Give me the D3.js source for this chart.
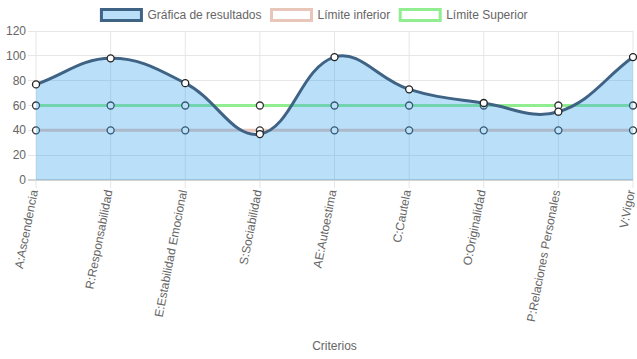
<!DOCTYPE html>
<html><head><meta charset="utf-8">
<script src="https://cdn.jsdelivr.net/npm/d3@7"></script>
<style>body{margin:0;background:#fff;} text{font-family:"Liberation Sans",Arial,Helvetica,sans-serif;}</style>
</head><body>
<svg id="c" width="637" height="359"></svg>
<script>
const categories = ["A:Ascendencia","R:Responsabilidad","E:Estabilidad Emocional","S:Sociabilidad","AE:Autoestima","C:Cautela","O:Originalidad","P:Relaciones Personales","V:Vigor"];
const resultados = [77, 98, 78, 37, 99, 73, 62, 55, 99];
const limiteInferior = [40, 40, 40, 40, 40, 40, 40, 40, 40];
const limiteSuperior = [60, 60, 60, 60, 60, 60, 60, 60, 60];
const yTicks = [0, 20, 40, 60, 80, 100, 120];
const legendLabels = ["Gráfica de resultados", "Límite inferior", "Límite Superior"];
const axisTitle = "Criterios";

const svg = d3.select("#c");
const L = 36, R = 633, T = 31, B = 180;
const x = d3.scalePoint().domain(categories).range([L, R]);
const y = d3.scaleLinear().domain([0, 120]).range([B, T]);

// grid
const g = svg.append("g");
yTicks.forEach(t => {
  g.append("line").attr("x1", L - 8).attr("x2", R).attr("y1", y(t)).attr("y2", y(t))
    .attr("stroke", t === 0 ? "#d4d4d4" : "#e6e6e6").attr("stroke-width", t === 0 ? 2 : 1).attr("shape-rendering", "crispEdges");
  g.append("text").attr("x", L - 10).attr("y", y(t)).attr("text-anchor", "end").attr("dominant-baseline", "central")
    .attr("font-size", 12).attr("fill", "#666").text(t);
});
categories.forEach(c => {
  g.append("line").attr("x1", x(c)).attr("x2", x(c)).attr("y1", T).attr("y2", B + 8)
    .attr("stroke", "#e6e6e6").attr("stroke-width", 1);
  g.append("text").attr("transform", `translate(${x(c) - 2},${B + 10}) rotate(-79)`)
    .attr("text-anchor", "end").attr("dominant-baseline", "central")
    .attr("font-size", 12).attr("fill", "#666").text(c);
});
// zero line on top of verticals
g.append("line").attr("x1", L - 8).attr("x2", R).attr("y1", y(0)).attr("y2", y(0)).attr("stroke", "#d4d4d4").attr("stroke-width", 2);

// Chart.js-style spline
function splinePath(vals, close) {
  const pts = vals.map((v, i) => ({x: x(categories[i]), y: y(v)}));
  const t = 0.4;
  const cps = pts.map((p, i) => {
    const prev = i > 0 ? pts[i-1] : p, next = i < pts.length-1 ? pts[i+1] : p;
    const d01 = Math.hypot(p.x-prev.x, p.y-prev.y), d12 = Math.hypot(next.x-p.x, next.y-p.y);
    let s01 = d01/(d01+d12), s12 = d12/(d01+d12);
    if (isNaN(s01)) s01 = 0; if (isNaN(s12)) s12 = 0;
    const fa = t*s01, fb = t*s12;
    const cl = v => ({x: Math.max(L, Math.min(R, v.x)), y: Math.max(T, Math.min(B, v.y))});
    return {prev: cl({x: p.x - fa*(next.x-prev.x), y: p.y - fa*(next.y-prev.y)}),
            next: cl({x: p.x + fb*(next.x-prev.x), y: p.y + fb*(next.y-prev.y)})};
  });
  const path = d3.path();
  path.moveTo(pts[0].x, pts[0].y);
  for (let i = 1; i < pts.length; i++) {
    path.bezierCurveTo(cps[i-1].next.x, cps[i-1].next.y, cps[i].prev.x, cps[i].prev.y, pts[i].x, pts[i].y);
  }
  if (close) {
    path.lineTo(pts[pts.length-1].x, y(0));
    path.lineTo(pts[0].x, y(0));
    path.closePath();
  }
  return path.toString();
}

function drawSeries(vals, lineColor, fill, pointStroke) {
  const s = svg.append("g");
  if (fill) s.append("path").attr("d", splinePath(vals, true)).attr("fill", fill).attr("stroke", "none");
  s.append("path").attr("d", splinePath(vals, false)).attr("fill", "none").attr("stroke", lineColor).attr("stroke-width", 3);
  s.selectAll("circle").data(vals).join("circle")
    .attr("cx", (d, i) => x(categories[i])).attr("cy", d => y(d)).attr("r", 3.5)
    .attr("fill", "#fff").attr("stroke", pointStroke).attr("stroke-width", 1.3);
}
// Chart.js draws last dataset first
drawSeries(limiteSuperior, "#90ee90", null, "#333");
drawSeries(limiteInferior, "rgb(232,198,186)", null, "#333");
drawSeries(resultados, "#3f6385", "rgba(54,162,235,0.34)", "#222");

// legend
const legendStyles = [
  {fill: "rgba(54,162,235,0.34)", stroke: "#3f6385"},
  {fill: "#fff", stroke: "rgb(232,198,186)"},
  {fill: "#fff", stroke: "#90ee90"}
];
const lg = svg.append("g");
let items = legendLabels.map((lab, i) => {
  const it = lg.append("g");
  it.append("rect").attr("x", 0).attr("y", 9.5).attr("width", 40).attr("height", 11)
    .attr("fill", legendStyles[i].fill).attr("stroke", legendStyles[i].stroke).attr("stroke-width", 3);
  const tx = it.append("text").attr("x", 46).attr("y", 15).attr("dominant-baseline", "central")
    .attr("font-size", 12).attr("fill", "#666").text(lab);
  return {it, w: 46 + tx.node().getComputedTextLength()};
});
const gap = 10;
const total = d3.sum(items, d => d.w) + gap * (items.length - 1);
let cx = 314.5 - total / 2;
items.forEach(d => { d.it.attr("transform", `translate(${cx},0)`); cx += d.w + gap; });

svg.append("text").attr("x", (L + R) / 2).attr("y", 346).attr("text-anchor", "middle").attr("dominant-baseline", "central")
  .attr("font-size", 12).attr("fill", "#666").text(axisTitle);
</script>
</body></html>
